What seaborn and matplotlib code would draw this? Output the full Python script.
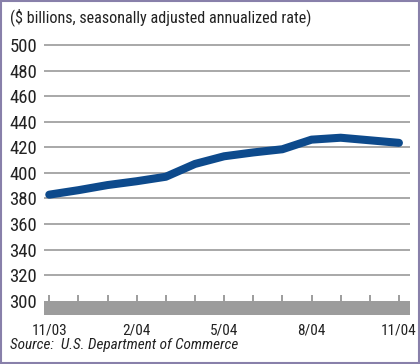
import numpy as np
import pandas as pd
import seaborn as sns
import matplotlib.pyplot as plt
from matplotlib.patches import Rectangle

# monthly values, $ billions
months = ["11/03", "12/03", "1/04", "2/04", "3/04", "4/04", "5/04",
          "6/04", "7/04", "8/04", "9/04", "10/04", "11/04"]
values = [383, 386.5, 390.5, 393.5, 397, 407, 413, 416, 418.5, 426, 427.5, 425.5, 423.5]
tick_labels = ["11/03", "2/04", "5/04", "8/04", "11/04"]
y_ticks = [300, 320, 340, 360, 380, 400, 420, 440, 460, 480, 500]


def main():
    sns.set_style("white")
    plt.rcParams['font.family'] = ['Roboto Condensed', 'DejaVu Sans']

    df = pd.DataFrame({"pos": np.arange(len(months)), "value": values})

    fig = plt.figure(figsize=(4.2, 3.64), dpi=100)
    ax = fig.add_axes([0.1048, 0.1349, 0.8714, 0.745])

    for y in y_ticks[1:]:
        ax.axhline(y, color="#9a9a9a", lw=1.2, zorder=1)

    sns.lineplot(data=df, x="pos", y="value", color="#0d4a8c", lw=5.8,
                 ax=ax, zorder=3, solid_capstyle="round")

    # gray strip along the bottom with month ticks
    ax.axhspan(289, 300, color="#9c9c9c", lw=0, zorder=2)
    ax.vlines(df["pos"], 300, 304.7, color="#8c8c8c", lw=1.2, zorder=2)

    ax.set_xlim(-0.18, 12.38)
    ax.set_ylim(289, 501)
    ax.set_yticks(y_ticks)
    ax.set_yticklabels([str(v) for v in y_ticks], fontsize=13.5, color="#222222")
    ax.set_xticks([months.index(m) for m in tick_labels])
    ax.set_xticklabels(tick_labels, fontsize=11, color="#222222")
    ax.tick_params(axis="y", length=0, pad=5)
    ax.tick_params(axis="x", length=0, pad=6)
    ax.set_xlabel("")
    ax.set_ylabel("")
    for s in ax.spines.values():
        s.set_visible(False)

    fig.text(10 / 420, 1 - 17 / 364, "($ billions, seasonally adjusted annualized rate)",
             fontsize=11.6, va="center", ha="left", color="#222222")
    fig.text(10 / 420, 1 - 345 / 364, "Source:  U.S. Department of Commerce",
             fontsize=11, style="italic", va="center", ha="left", color="#222222")

    fig.add_artist(Rectangle((0.002, 0.002), 0.996, 0.996, transform=fig.transFigure,
                             fill=False, edgecolor="#8880aa", lw=1.5))

    plt.savefig("out.png", dpi=100)


if __name__ == "__main__":
    main()
